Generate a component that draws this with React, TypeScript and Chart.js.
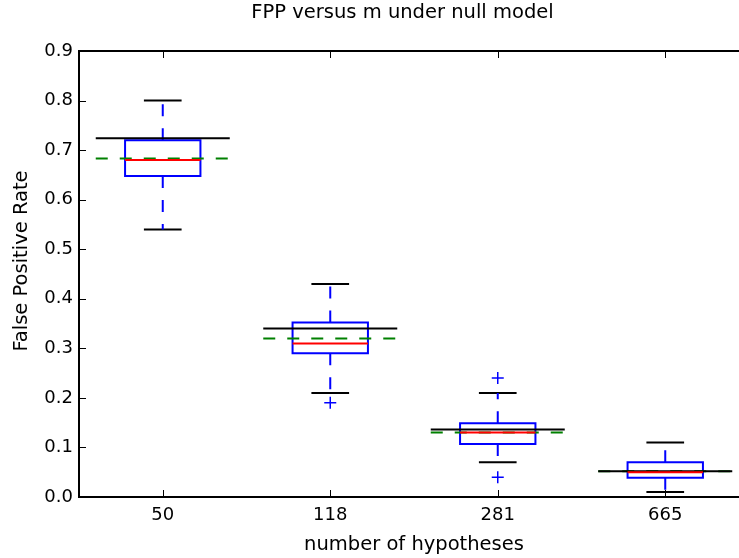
import React, { useEffect, useRef } from 'react';
import { Chart, registerables } from 'chart.js';

Chart.register(...registerables);

const TITLE = 'FPP versus m under null model';
const X_LABEL = 'number of hypotheses';
const Y_LABEL = 'False Positive Rate';
const CATEGORIES = ['50', '118', '281', '665'];
const POSITIONS = [1, 2, 3, 4];
const Q1 = [0.648, 0.29, 0.107, 0.039];
const MEDIAN = [0.68, 0.31, 0.13, 0.05];
const Q3 = [0.72, 0.352, 0.149, 0.07];
const WHISKER_LOW = [0.54, 0.21, 0.07, 0.01];
const WHISKER_HIGH = [0.8, 0.43, 0.21, 0.11];
const OUTLIERS: number[][] = [[], [0.19], [0.24, 0.04], []];
const REFERENCE = [0.724, 0.34, 0.136, 0.052];
const MEAN = [0.683, 0.32, 0.13, 0.052];
const Y_TICKS = [0, 0.1, 0.2, 0.3, 0.4, 0.5, 0.6, 0.7, 0.8, 0.9];

const FONT = '"DejaVu Sans", "Liberation Sans", sans-serif';

const framePlugin = {
  id: 'frame',
  afterDatasetsDraw(chart: any) {
    const { ctx, chartArea: a, scales } = chart;
    const TL = 7;
    ctx.save();
    ctx.strokeStyle = '#000';
    ctx.lineWidth = 1;
    ctx.beginPath();
    scales.y.ticks.forEach((t: any) => {
      const py = Math.round(scales.y.getPixelForValue(t.value)) + 0.5;
      ctx.moveTo(a.left, py);
      ctx.lineTo(a.left + TL, py);
      ctx.moveTo(a.right, py);
      ctx.lineTo(a.right - TL, py);
    });
    scales.x.ticks.forEach((t: any) => {
      const px = Math.round(scales.x.getPixelForValue(t.value)) + 0.5;
      ctx.moveTo(px, a.bottom);
      ctx.lineTo(px, a.bottom - TL);
      ctx.moveTo(px, a.top);
      ctx.lineTo(px, a.top + TL);
    });
    ctx.stroke();
    ctx.lineWidth = 2;
    ctx.strokeRect(a.left, a.top, a.right - a.left, a.bottom - a.top);
    ctx.restore();
  },
};

const textPlugin = {
  id: 'figText',
  afterDraw(chart: any) {
    const ctx = chart.ctx;
    ctx.save();
    ctx.fillStyle = '#000';
    ctx.textAlign = 'center';
    ctx.font = `19.5px ${FONT}`;
    ctx.textBaseline = 'alphabetic';
    ctx.fillText(TITLE, 402.5, 18);
    ctx.translate(22, 261);
    ctx.rotate(-Math.PI / 2);
    ctx.textBaseline = 'middle';
    ctx.fillText(Y_LABEL, 0, 0);
    ctx.restore();
  },
};

export default function App() {
  const ref = useRef<HTMLCanvasElement>(null);

  useEffect(() => {
    if (!ref.current) return;
    const BOX_HALF = 0.225;
    const CAP_HALF = 0.1125;
    const LINE_HALF = 0.4;

    const boxPts: any[] = [];
    const medPts: any[] = [];
    const whiskPts: any[] = [];
    const capPts: any[] = [];
    const refPts: any[] = [];
    const meanPts: any[] = [];
    const outPts: any[] = [];

    POSITIONS.forEach((x, i) => {
      boxPts.push(
        { x, y: Q1[i] },
        { x: x + BOX_HALF, y: Q1[i] },
        { x: x + BOX_HALF, y: Q3[i] },
        { x: x - BOX_HALF, y: Q3[i] },
        { x: x - BOX_HALF, y: Q1[i] },
        { x, y: Q1[i] },
        { x, y: null }
      );
      medPts.push({ x: x - BOX_HALF, y: MEDIAN[i] }, { x: x + BOX_HALF, y: MEDIAN[i] }, { x, y: null });
      whiskPts.push(
        { x, y: Q3[i] },
        { x, y: WHISKER_HIGH[i] },
        { x, y: null },
        { x, y: Q1[i] },
        { x, y: WHISKER_LOW[i] },
        { x, y: null }
      );
      capPts.push(
        { x: x - CAP_HALF, y: WHISKER_HIGH[i] },
        { x: x + CAP_HALF, y: WHISKER_HIGH[i] },
        { x, y: null },
        { x: x - CAP_HALF, y: WHISKER_LOW[i] },
        { x: x + CAP_HALF, y: WHISKER_LOW[i] },
        { x, y: null }
      );
      refPts.push({ x: x - LINE_HALF, y: REFERENCE[i] }, { x: x + LINE_HALF, y: REFERENCE[i] }, { x, y: null });
      meanPts.push({ x: x - LINE_HALF, y: MEAN[i] }, { x: x + LINE_HALF, y: MEAN[i] }, { x, y: null });
      OUTLIERS[i].forEach((v) => outPts.push({ x, y: v }));
    });

    const base = {
      pointRadius: 0,
      pointHoverRadius: 0,
      borderWidth: 2,
      fill: false,
      tension: 0,
      spanGaps: false,
      borderJoinStyle: 'miter' as const,
    };

    const chart = new Chart(ref.current, {
      type: 'line',
      data: {
        datasets: [
          { ...base, label: 'median', data: medPts, borderColor: '#ff0000' },
          { ...base, label: 'reference', data: refPts, borderColor: '#000000' },
          { ...base, label: 'mean', data: meanPts, borderColor: '#008000', borderDash: [12, 12] },
          { ...base, label: 'box', data: boxPts, borderColor: '#0000ff' },
          { ...base, label: 'whiskers', data: whiskPts, borderColor: '#0000ff', borderDash: [12, 12] },
          { ...base, label: 'caps', data: capPts, borderColor: '#000000' },
          {
            label: 'outliers',
            data: outPts,
            showLine: false,
            pointStyle: 'cross',
            pointRadius: 6,
            pointHoverRadius: 6,
            borderColor: '#0000ff',
            backgroundColor: '#0000ff',
            pointBorderWidth: 1.5,
          },
        ] as any,
      },
      options: {
        animation: false,
        responsive: false,
        devicePixelRatio: 1,
        events: [],
        layout: { padding: { top: 51, right: 11, bottom: 0, left: 0 }, autoPadding: false } as any,
        plugins: {
          legend: { display: false },
          tooltip: { enabled: false },
          title: { display: false },
        },
        scales: {
          x: {
            type: 'linear',
            position: 'bottom',
            min: 0.5,
            max: 4.5,
            afterBuildTicks: (s: any) => {
              s.ticks = POSITIONS.map((v) => ({ value: v }));
            },
            afterFit: (s: any) => {
              s.height = 61;
            },
            grid: { display: false, drawTicks: false },
            border: { display: false },
            ticks: {
              autoSkip: false,
              maxRotation: 0,
              padding: 8,
              color: '#000',
              font: { family: FONT, size: 18 },
              callback: (v: any) => CATEGORIES[POSITIONS.indexOf(Number(v))] ?? '',
            },
            title: {
              display: true,
              text: X_LABEL,
              color: '#000',
              font: { family: FONT, size: 19.5 },
              padding: { top: 0, bottom: 1 },
            },
          },
          y: {
            type: 'linear',
            min: 0,
            max: 0.9,
            afterBuildTicks: (s: any) => {
              s.ticks = Y_TICKS.map((v) => ({ value: v }));
            },
            afterFit: (s: any) => {
              s.width = 79;
            },
            grid: { display: false, drawTicks: false },
            border: { display: false },
            ticks: {
              padding: 6,
              color: '#000',
              font: { family: FONT, size: 18 },
              callback: (v: any) => Number(v).toFixed(1),
            },
            title: { display: false },
          },
        },
      } as any,
      plugins: [framePlugin, textPlugin],
    });

    return () => chart.destroy();
  }, []);

  return (
    <div
      style={{
        position: 'absolute',
        left: 0,
        top: 0,
        width: 739,
        height: 558,
        overflow: 'hidden',
        background: '#fff',
      }}
    >
      <canvas ref={ref} width={760} height={558} style={{ display: 'block' }} />
    </div>
  );
}
